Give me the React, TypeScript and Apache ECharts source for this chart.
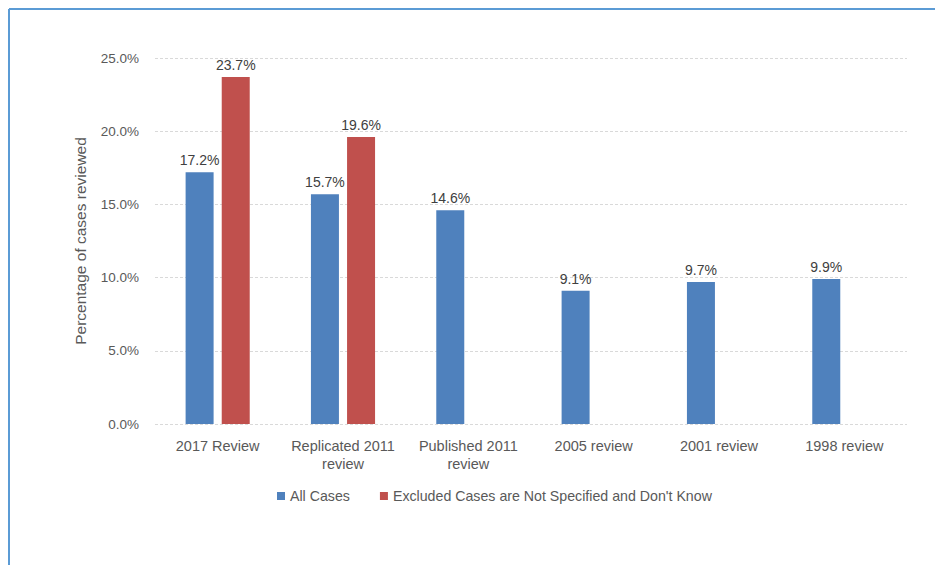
import React, { useEffect, useRef } from "react";
import * as echarts from "echarts";

const categories = [
  "2017 Review",
  "Replicated 2011\nreview",
  "Published 2011\nreview",
  "2005 review",
  "2001 review",
  "1998 review",
];
const allCases = [17.2, 15.7, 14.6, 9.1, 9.7, 9.9];
const excludedCases = [23.7, 19.6, null, null, null, null];
const seriesNames = ["All Cases", "Excluded Cases are Not Specified and Don't Know"];
const yTicks = { min: 0, max: 25, interval: 5 };

const FONT = "'Liberation Sans', Arial, sans-serif";
const TXT = "#595959";

export default function App() {
  const ref = useRef<HTMLDivElement>(null);
  useEffect(() => {
    document.body.style.margin = "0";
    const chart = echarts.init(ref.current!, null, { renderer: "svg" });
    const label = {
      show: true,
      position: "top",
      distance: 5,
      color: "#404040",
      fontFamily: FONT,
      fontSize: 14,
      formatter: (p: any) => (p.value == null ? "" : Number(p.value).toFixed(1) + "%"),
    };
    chart.setOption({
      animation: false,
      textStyle: { fontFamily: FONT },
      graphic: [
        { type: "line", shape: { x1: 9, y1: 9, x2: 935, y2: 9 }, style: { stroke: "#5b9bd5", lineWidth: 2 } },
        { type: "line", shape: { x1: 9, y1: 9, x2: 9, y2: 565 }, style: { stroke: "#5b9bd5", lineWidth: 2 } },
      ],
      grid: { left: 155, right: 28, top: 58, bottom: 141 },
      legend: {
        left: 272,
        top: 484,
        itemWidth: 8,
        itemHeight: 8,
        itemGap: 30,
        icon: "rect",
        textStyle: { color: TXT, fontSize: 14.2, fontFamily: FONT },
        data: seriesNames,
      },
      xAxis: {
        type: "category",
        data: categories,
        axisLine: { show: false },
        axisTick: { show: false },
        axisLabel: { color: TXT, fontSize: 14.5, fontFamily: FONT, margin: 13, lineHeight: 18, interval: 0 },
      },
      yAxis: {
        type: "value",
        min: yTicks.min,
        max: yTicks.max,
        interval: yTicks.interval,
        name: "Percentage of cases reviewed",
        nameLocation: "middle",
        nameGap: 67,
        nameTextStyle: { color: TXT, fontSize: 15.5, fontFamily: FONT },
        axisLine: { show: false },
        axisTick: { show: false },
        axisLabel: {
          color: TXT,
          fontSize: 13.5,
          fontFamily: FONT,
          margin: 16,
          formatter: (v: number) => v.toFixed(1) + "%",
        },
        splitLine: { lineStyle: { color: "#d9d9d9", type: [3, 2], width: 1 } },
      },
      series: [
        {
          name: seriesNames[0],
          type: "bar",
          data: allCases,
          barWidth: 28,
          barGap: "29%",
          itemStyle: { color: "#4f81bd" },
          label,
        },
        {
          name: seriesNames[1],
          type: "bar",
          data: excludedCases,
          barWidth: 28,
          barGap: "29%",
          itemStyle: { color: "#c0504d" },
          label,
        },
      ],
    });
    return () => chart.dispose();
  }, []);
  return <div ref={ref} style={{ width: 935, height: 565 }} />;
}
